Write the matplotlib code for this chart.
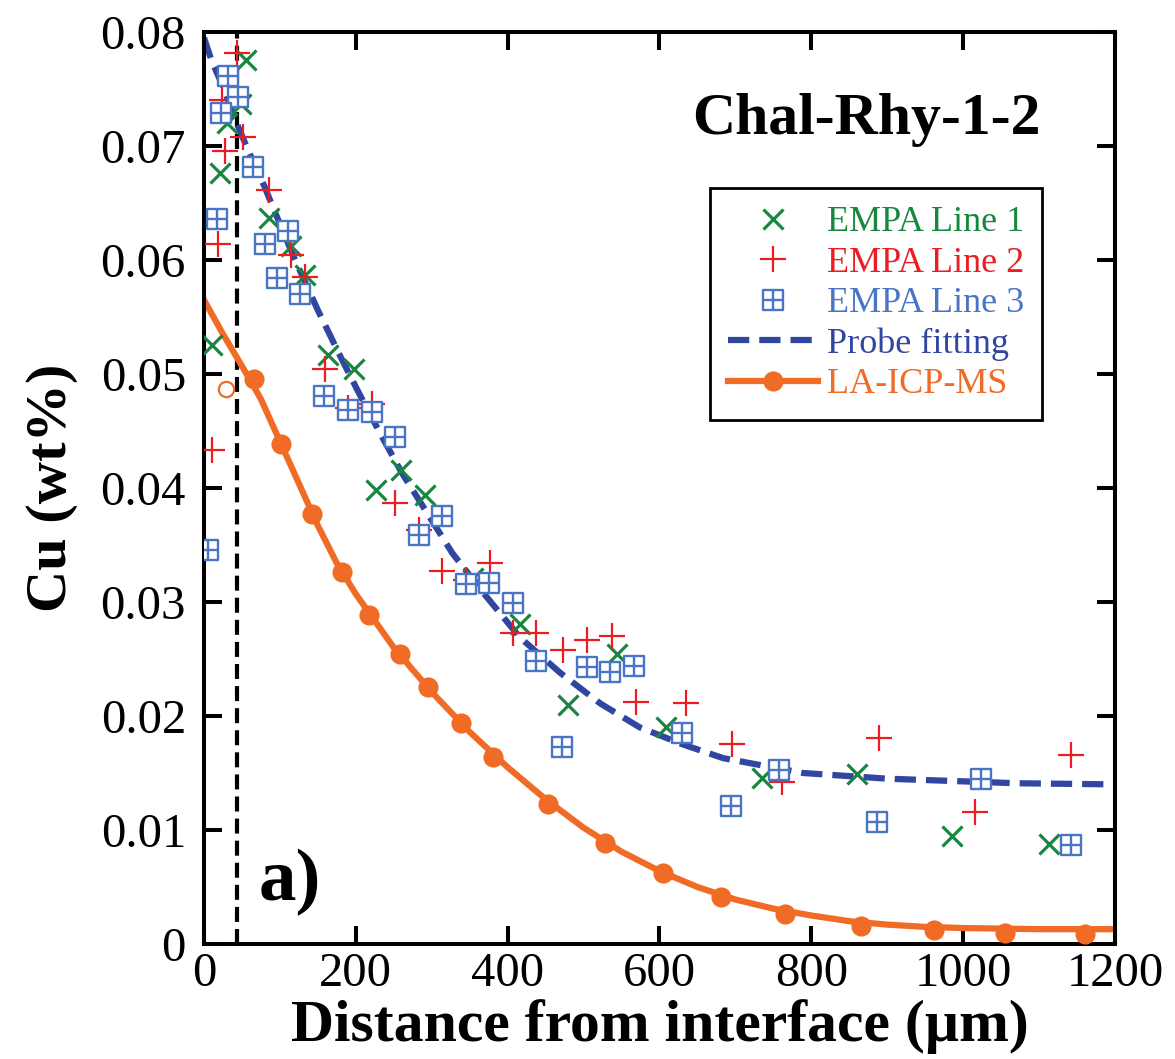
import matplotlib
matplotlib.use("Agg")
import matplotlib.pyplot as plt
from matplotlib.path import Path

plt.rcParams['font.family'] = ['Liberation Serif', 'DejaVu Serif']

# ---- data ----
# EMPA Line 1 (green x)
line1_x = [56, 49, 30, 21, 10, 85, 115, 133, 164, 197, 227, 260, 291, 354, 416, 544, 480, 608, 735, 860, 986, 1113]
line1_y = [0.0775, 0.0737, 0.0720, 0.0676, 0.0525, 0.0637, 0.0612, 0.0587, 0.0517, 0.0504, 0.0398, 0.0416,
           0.0394, 0.0321, 0.0281, 0.0254, 0.0210, 0.0190, 0.0146, 0.0149, 0.0095, 0.0088]

# EMPA Line 2 (red +)
line2_x = [44, 24, 28, 52, 19, 10, 85, 115, 133, 159, 190, 221, 252, 283, 313, 345, 377, 407, 438, 473,
           504, 537, 569, 635, 696, 761, 889, 1016, 1142]
line2_y = [0.0782, 0.0740, 0.0696, 0.0708, 0.0614, 0.0433, 0.0661, 0.0604, 0.0585, 0.0504, 0.0470, 0.0474,
           0.0387, 0.0363, 0.0327, 0.0319, 0.0334, 0.0273, 0.0273, 0.0258, 0.0267, 0.0270, 0.0212, 0.0211,
           0.0175, 0.0142, 0.0181, 0.0116, 0.0166]

# EMPA Line 3 (blue boxed plus)
line3_x = [32, 45, 23, 65, 17, 80, 111, 96, 126, 5, 158, 190, 221, 252, 314, 283, 345, 376, 407, 438,
           471, 504, 535, 566, 630, 694, 758, 886, 1023, 1142]
line3_y = [0.0761, 0.0743, 0.0729, 0.0682, 0.0636, 0.0614, 0.0625, 0.0584, 0.0570, 0.0346, 0.0481, 0.0468,
           0.0467, 0.0445, 0.0375, 0.0359, 0.0316, 0.0317, 0.0299, 0.0248, 0.0173, 0.0243, 0.0239, 0.0244,
           0.0185, 0.0121, 0.0153, 0.0107, 0.0145, 0.0087]

# Probe fitting curve (dashed)
probe_x = [0, 10, 25, 45, 57, 80, 91, 120, 150, 177, 202, 232, 260, 294, 327, 368, 416, 469, 522, 574,
           631, 684, 789, 900, 1071, 1200]
probe_y = [0.0795, 0.0775, 0.0752, 0.0717, 0.0698, 0.0664, 0.0646, 0.0600, 0.0556, 0.0519, 0.0486, 0.0448,
           0.0414, 0.0378, 0.0343, 0.0308, 0.0269, 0.0238, 0.0211, 0.0190, 0.0175, 0.0163, 0.0150, 0.0145,
           0.0141, 0.0140]

# LA-ICP-MS points and fit
la_x = [66, 101, 142, 182, 217, 258, 295, 339, 381, 453, 528, 604, 681, 766, 866, 961, 1055, 1161]
la_y = [0.0496, 0.0439, 0.0377, 0.0326, 0.0289, 0.0254, 0.0225, 0.0194, 0.0164, 0.0123, 0.0089, 0.0062,
        0.0041, 0.0026, 0.0016, 0.0012, 0.0010, 0.0009]
la_open_x = [29]
la_open_y = [0.0487]

la_fit_x = [0, 25, 50, 75, 100, 125, 150, 175, 200, 250, 300, 350, 400, 450, 500, 550, 600, 650, 700,
            750, 800, 850, 900, 950, 1000, 1100, 1200]
la_fit_y = [0.0565, 0.0535, 0.0507, 0.0478, 0.0441, 0.0404, 0.0367, 0.0334, 0.0307, 0.0260, 0.0221,
            0.0186, 0.0155, 0.0127, 0.0102, 0.0081, 0.0064, 0.0050, 0.0039, 0.0031, 0.0025, 0.0020,
            0.0017, 0.0015, 0.0014, 0.0013, 0.0013]

interface_x = 43

xticks = [0, 200, 400, 600, 800, 1000, 1200]
yticks = [0, 0.01, 0.02, 0.03, 0.04, 0.05, 0.06, 0.07, 0.08]
ytick_labels = ["0", "0.01", "0.02", "0.03", "0.04", "0.05", "0.06", "0.07", "0.08"]

# colours
c_green = "#17873f"
c_red = "#ed1c24"
c_blue = "#4a74c4"
c_probe = "#3046a0"
c_orange = "#f06b25"

# boxed-plus marker
box_plus = Path(
    [(-1, -1), (1, -1), (1, 1), (-1, 1), (-1, -1), (0, -1), (0, 1), (-1, 0), (1, 0)],
    [Path.MOVETO, Path.LINETO, Path.LINETO, Path.LINETO, Path.CLOSEPOLY,
     Path.MOVETO, Path.LINETO, Path.MOVETO, Path.LINETO],
)

fig = plt.figure(figsize=(11.75, 10.59), dpi=100)
ax = fig.add_axes([0.1736, 0.1086, 0.7753, 0.8612])

ax.axvline(interface_x, color="black", lw=3, ls=(0, (3.6, 1.7)), zorder=1)

ax.plot(la_fit_x, la_fit_y, color=c_orange, lw=4.5, zorder=2)
ax.plot(probe_x, probe_y, color=c_probe, lw=4.5, ls=(0, (3.4, 1.6)), zorder=2)

ax.plot(line1_x, line1_y, ls="none", marker="x", ms=15, mew=2.3, color=c_green, zorder=3)
ax.plot(line2_x, line2_y, ls="none", marker="+", ms=19, mew=1.6, color=c_red, zorder=4)
ax.plot(line3_x, line3_y, ls="none", marker=box_plus, ms=15, mew=1.7, mec=c_blue, mfc="white", zorder=5)

ax.plot(la_x, la_y, ls="none", marker="o", ms=13.5, color=c_orange, zorder=6)
ax.plot(la_open_x, la_open_y, ls="none", marker="o", ms=11, mew=1.6, mec=c_orange, mfc="white", zorder=6)

# legend handles
h1, = ax.plot([], [], ls="none", marker="x", ms=15, mew=2.3, color=c_green)
h2, = ax.plot([], [], ls="none", marker="+", ms=19, mew=1.6, color=c_red)
h3, = ax.plot([], [], ls="none", marker=box_plus, ms=15, mew=1.7, mec=c_blue, mfc="white")
h4, = ax.plot([], [], color=c_probe, lw=4.5, ls=(0, (3.4, 1.6)))
h5, = ax.plot([], [], color=c_orange, lw=4.5, marker="o", ms=13.5)

leg = ax.legend([h1, h2, h3, h4, h5],
                ["EMPA Line 1", "EMPA Line 2", "EMPA Line 3", "Probe fitting", "LA-ICP-MS"],
                loc="upper left", bbox_to_anchor=(0.555, 0.829), borderaxespad=0,
                fontsize=26, handlelength=2.5, handletextpad=0.25, labelspacing=0.2,
                borderpad=0.5, numpoints=1, fancybox=False, framealpha=1, edgecolor="black")
leg.get_frame().set_linewidth(2.0)
for txt, c in zip(leg.get_texts(), [c_green, c_red, c_blue, c_probe, c_orange]):
    txt.set_color(c)

ax.text(0.727, 0.9035, "Chal-Rhy-1-2", transform=ax.transAxes, ha="center", va="center",
        fontsize=43, fontweight="bold")
ax.text(0.094, 0.068, "a)", transform=ax.transAxes, ha="center", va="center",
        fontsize=54, fontweight="bold")

ax.set_xlim(0, 1200)
ax.set_ylim(0, 0.08)
ax.set_xticks(xticks)
ax.set_xticklabels([str(v) for v in xticks])
ax.set_yticks(yticks)
ax.set_yticklabels(ytick_labels)

ax.tick_params(axis="both", direction="in", top=True, right=True, length=13, width=2.9, labelsize=35)
ax.tick_params(axis="x", pad=6)
ax.tick_params(axis="y", pad=13)
for sp in ax.spines.values():
    sp.set_linewidth(2.9)

ax.set_xlabel("Distance from interface (µm)", fontsize=43, fontweight="bold", labelpad=2)
ax.set_ylabel("Cu (wt%)", fontsize=42, fontweight="bold", labelpad=16)

fig.savefig("out.png", dpi=100, facecolor="white")
